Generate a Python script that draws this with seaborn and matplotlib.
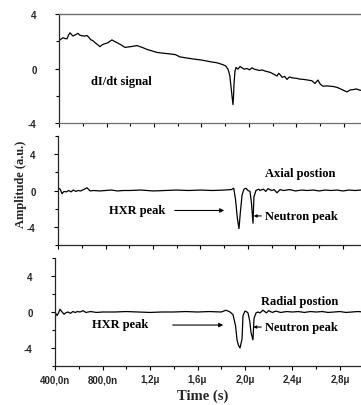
import numpy as np
import pandas as pd
import matplotlib
matplotlib.use("Agg")
import matplotlib.pyplot as plt
from matplotlib.ticker import FixedLocator, FixedFormatter
import seaborn as sns

# ---------------- data (time in microseconds, amplitude in a.u.) ----------------
t_didt = [0.400, 0.408, 0.434, 0.450, 0.467, 0.480, 0.493, 0.505, 0.518, 0.540, 0.560,
          0.575, 0.594, 0.615, 0.636, 0.650, 0.669, 0.685, 0.703, 0.725, 0.745, 0.760,
          0.779, 0.810, 0.846, 0.865, 0.888, 0.920, 0.956, 1.000, 1.057, 1.100, 1.141,
          1.180, 1.225, 1.280, 1.335, 1.380, 1.419, 1.470, 1.528, 1.600, 1.672, 1.730,
          1.781, 1.805, 1.823, 1.838, 1.848, 1.858, 1.865, 1.870, 1.874, 1.882, 1.891,
          1.907, 1.925, 1.941, 1.960, 1.983, 2.005, 2.025, 2.045, 2.067, 2.090, 2.109,
          2.140, 2.177, 2.205, 2.236, 2.250, 2.261, 2.280, 2.300, 2.320, 2.340, 2.362,
          2.400, 2.429, 2.460, 2.497, 2.530, 2.556, 2.570, 2.581, 2.600, 2.623, 2.660,
          2.707, 2.740, 2.766, 2.800, 2.825, 2.850, 2.876, 2.905, 2.935, 2.970, 3.000]
v_didt = [2.00, 2.10, 2.26, 2.20, 2.18, 2.45, 2.62, 2.50, 2.38, 2.48, 2.58,
          2.45, 2.40, 2.38, 2.42, 2.30, 2.10, 2.05, 1.90, 1.75, 1.60, 1.72,
          1.80, 1.88, 2.10, 2.00, 1.90, 1.75, 1.55, 1.60, 1.68, 1.55, 1.40,
          1.30, 1.18, 1.12, 1.07, 1.02, 0.85, 0.78, 0.70, 0.62, 0.50, 0.42,
          0.28, 0.18, -0.05, -0.50, -1.30, -2.10, -2.65, -2.00, -1.10, -0.20, 0.08,
          -0.05, 0.15, 0.05, -0.05, 0.00, -0.10, 0.05, -0.05, -0.10, -0.15, -0.10,
          -0.20, -0.28, -0.40, -0.55, -0.35, -0.45, -0.65, -0.58, -0.80, -0.62, -0.68,
          -0.72, -0.78, -0.80, -0.85, -0.90, -1.10, -0.95, -0.85, -1.15, -1.30, -1.28,
          -1.32, -1.38, -1.48, -1.62, -1.72, -1.58, -1.55, -1.50, -1.60, -1.55, -1.58]

t_axial = [0.400, 0.408, 0.420, 0.434, 0.450, 0.470, 0.490, 0.510, 0.530, 0.550, 0.570,
           0.590, 0.615, 0.644, 0.670, 0.700, 0.750, 0.800, 0.850, 0.900, 0.950, 1.000,
           1.100, 1.200, 1.300, 1.400, 1.500, 1.600, 1.700, 1.800, 1.860, 1.880, 1.895,
           1.910, 1.924, 1.935, 1.950, 1.966, 1.983, 2.000, 2.017, 2.030, 2.042, 2.050,
           2.067, 2.090, 2.101, 2.130, 2.150, 2.168, 2.200, 2.220, 2.244, 2.270, 2.300,
           2.350, 2.400, 2.450, 2.500, 2.550, 2.600, 2.650, 2.700, 2.750, 2.800, 2.850,
           2.900, 2.950, 3.000]
v_axial = [0.00, 0.25, 0.10, -0.35, -0.10, -0.15, 0.00, -0.15, 0.05, -0.10, 0.00,
           -0.05, 0.10, 0.30, -0.05, 0.00, -0.05, 0.00, 0.05, -0.05, 0.00, 0.00,
           0.05, -0.05, 0.00, 0.05, 0.00, 0.05, 0.00, 0.05, 0.10, 0.25, -1.00,
           -3.00, -4.20, -2.50, -0.50, 0.15, 0.25, 0.00, -0.10, -1.50, -3.60, -0.70,
           0.00, 0.15, 0.00, 0.15, -0.10, 0.20, 0.00, 0.10, -0.25, 0.10, 0.00,
           0.10, -0.05, 0.05, 0.00, 0.05, -0.05, 0.05, 0.00, 0.05, -0.05, 0.05,
           0.00, 0.05, 0.00]

t_radial = [0.400, 0.417, 0.430, 0.442, 0.460, 0.476, 0.490, 0.509, 0.530, 0.550, 0.570,
            0.590, 0.611, 0.636, 0.660, 0.700, 0.750, 0.800, 0.900, 1.000, 1.100, 1.200,
            1.300, 1.400, 1.500, 1.600, 1.700, 1.800, 1.840, 1.874, 1.899, 1.920, 1.933,
            1.945, 1.958, 1.975, 1.983, 2.000, 2.017, 2.025, 2.040, 2.051, 2.067, 2.076,
            2.093, 2.109, 2.126, 2.152, 2.180, 2.200, 2.230, 2.260, 2.300, 2.350, 2.400,
            2.450, 2.500, 2.550, 2.600, 2.650, 2.700, 2.750, 2.800, 2.850, 2.900, 2.950,
            3.000]
v_radial = [0.00, -0.40, -0.10, 0.30, 0.00, -0.25, -0.10, 0.00, -0.15, 0.05, -0.05,
            0.05, 0.00, 0.15, -0.05, 0.05, -0.05, 0.00, 0.00, 0.05, 0.00, -0.05,
            0.00, 0.00, 0.05, 0.00, 0.05, 0.00, 0.20, 0.00, -0.30, -1.50, -3.10,
            -3.70, -4.00, -3.00, -0.40, 0.10, 0.00, -0.10, -1.00, -2.30, -3.10, -0.70,
            -0.10, 0.00, -0.10, 0.20, -0.10, 0.15, -0.05, 0.10, -0.05, 0.05, 0.00,
            0.05, -0.05, 0.05, 0.00, 0.05, -0.05, 0.00, 0.05, -0.05, 0.00, 0.05,
            0.00]

x_tick_values = [0.4, 0.8, 1.2, 1.6, 2.0, 2.4, 2.8]
x_tick_labels = ["400,0n", "800,0n", "1,2\u03bc", "1,6\u03bc", "2,0\u03bc", "2,4\u03bc", "2,8\u03bc"]
x_minor_values = [0.6, 1.0, 1.4, 1.8, 2.2, 2.6, 3.0]
y_tick_values = [-4, 0, 4]
y_tick_labels = ["-4", "0", "4"]

panel_labels = ["dI/dt signal", "Axial postion", "Radial postion"]

# ---------------- figure ----------------
sns.set_style("ticks")
plt.rcParams["font.family"] = ["Liberation Sans", "DejaVu Sans"]

W, H = 361, 406
fig = plt.figure(figsize=(W / 100, H / 100), dpi=100)

px_per_us = 118.75
xmin, xmax = 0.4, 3.0
width_px = (xmax - xmin) * px_per_us

def make_ax(left_px, top_px, bottom_px):
    return fig.add_axes([left_px / W, 1 - bottom_px / H, width_px / W, (bottom_px - top_px) / H])

ax1 = make_ax(59, 15, 124)
ax2 = make_ax(58, 137, 246)
ax3 = make_ax(55, 259, 367)

serif = ["Liberation Serif", "DejaVu Serif"]

datasets = [(t_didt, v_didt, ax1, (-4, 4)),
            (t_axial, v_axial, ax2, (-6, 6)),
            (t_radial, v_radial, ax3, (-6, 6))]

for t, v, ax, ylim in datasets:
    df = pd.DataFrame({"t": t, "v": v})
    sns.lineplot(data=df, x="t", y="v", ax=ax, color="black", linewidth=0.9)
    ax.set_xlim(xmin, xmax)
    ax.set_ylim(*ylim)
    ax.set_xlabel("")
    ax.set_ylabel("")
    ax.xaxis.set_major_locator(FixedLocator(x_tick_values))
    ax.xaxis.set_minor_locator(FixedLocator(x_minor_values))
    ax.yaxis.set_major_locator(FixedLocator(y_tick_values))
    ax.yaxis.set_major_formatter(FixedFormatter(y_tick_labels))
    minors = [-2, 2] if ylim[1] == 4 else [-6, -2, 2, 6]
    ax.yaxis.set_minor_locator(FixedLocator(minors))
    ax.tick_params(axis="both", which="major", direction="out", length=3, width=0.8,
                   color="black", labelsize=7)
    ax.tick_params(axis="both", which="minor", direction="out", length=2, width=0.8,
                   color="black")
    ax.tick_params(axis="y", which="major", pad=13)
    ax.tick_params(axis="x", which="major", pad=3)
    for lab in ax.get_yticklabels():
        lab.set_fontweight("bold")
    ax.spines["right"].set_visible(False)
    ax.spines["top"].set_visible(False)
    ax.spines["left"].set_linewidth(0.9)
    ax.spines["bottom"].set_linewidth(0.9)
    ax.set_facecolor("none")

ax1.spines["top"].set_visible(True)
ax1.spines["top"].set_color("#6e6e6e")
ax1.spines["top"].set_linewidth(1.0)
ax1.spines["bottom"].set_color("#6e6e6e")

for ax in (ax1, ax2):
    ax.set_xticklabels([])
ax3.xaxis.set_major_formatter(FixedFormatter(x_tick_labels))
for lab in ax3.get_xticklabels():
    lab.set_fontweight("bold")
    lab.set_fontsize(7)

txt = dict(family=serif, fontweight="bold", fontsize=9, color="black")
ax1.text(0.922, -0.93, panel_labels[0], ha="center", va="center", **txt)
ax2.text(2.438, 1.9, panel_labels[1], ha="center", va="center", **txt)
ax3.text(2.463, 1.22, panel_labels[2], ha="center", va="center", **txt)

arrow = dict(arrowstyle="-|>", color="black", lw=0.8, mutation_scale=6)
arrow_short = dict(arrowstyle="-|>", color="black", lw=0.8, mutation_scale=4,
                   shrinkA=0, shrinkB=0)
# middle panel
ax2.text(1.065, -2.1, "HXR peak", ha="center", va="center", **txt)
ax2.annotate("", xy=(1.823, -2.2), xytext=(1.36, -2.2), arrowprops=arrow)
ax2.annotate("Neutron peak", xy=(2.048, -2.8), xytext=(2.14, -2.8), ha="left", va="center",
             arrowprops=arrow_short, **txt)
# bottom panel
ax3.text(0.947, -1.33, "HXR peak", ha="center", va="center", **txt)
ax3.annotate("", xy=(1.84, -1.45), xytext=(1.368, -1.45), arrowprops=arrow)
ax3.annotate("Neutron peak", xy=(2.07, -1.67), xytext=(2.165, -1.67), ha="left", va="center",
             arrowprops=arrow_short, **txt)

fig.text(21 / W, 1 - 184 / H, "Amplitude (a.u.)", rotation=90, ha="center", va="center",
         family=serif, fontweight="bold", fontsize=9)
fig.text(203 / W, 1 - 396 / H, "Time (s)", ha="center", va="center",
         family=serif, fontweight="bold", fontsize=10.5)

fig.savefig("out.png", dpi=100)
